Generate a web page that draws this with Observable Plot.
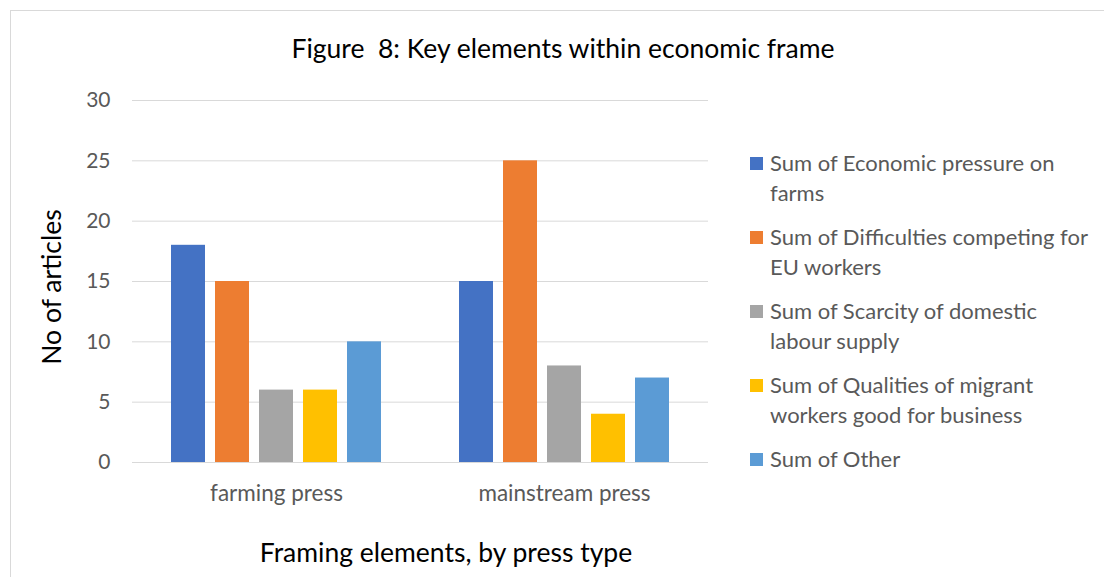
<!DOCTYPE html>
<html>
<head>
<meta charset="utf-8">
<script src="https://cdn.jsdelivr.net/npm/d3@7"></script>
<script src="https://cdn.jsdelivr.net/npm/@observablehq/plot@0.6"></script>
<style>
  html, body { margin: 0; padding: 0; background: #fff; }
  #wrap { position: relative; width: 1104px; height: 577px; overflow: hidden; font-family: Lato, "Noto Sans", sans-serif; }
  #frame { position: absolute; left: 10px; top: 10px; width: 1200px; height: 700px; border: 1px solid #d9d9d9; box-sizing: border-box; }
  #title { position: absolute; left: 0; width: 1126px; top: 32px; line-height: 32px; text-align: center; font-size: 26.5px; color: #000; }
  #ylab { position: absolute; left: 51px; top: 287px; transform: translate(-50%, -50%) rotate(-90deg); font-size: 26.5px; line-height: 32px; color: #000; white-space: nowrap; }
  #xlab { position: absolute; left: 0; width: 892px; top: 536px; line-height: 32px; text-align: center; font-size: 26.5px; color: #000; }
  #chart { position: absolute; left: 0; top: 0; }
  #legend { position: absolute; left: 750px; top: 148px; }
  .item { position: relative; padding-left: 20px; font-size: 22px; line-height: 30px; color: #595959; margin-bottom: 14px; white-space: nowrap; }
  .sw { position: absolute; left: 0; top: 9px; width: 13px; height: 13px; }
</style>
</head>
<body>
<div id="wrap">
  <div id="frame"></div>
  <div id="chart"></div>
  <div id="title">Figure&nbsp; 8: Key elements within economic frame</div>
  <div id="ylab">No of articles</div>
  <div id="xlab">Framing elements, by press type</div>
  <div id="legend"></div>
</div>
<script>
const presses = ["farming press", "mainstream press"];
const series = [
  "Sum of Economic pressure on farms",
  "Sum of Difficulties competing for EU workers",
  "Sum of Scarcity of domestic labour supply",
  "Sum of Qualities of migrant workers good for business",
  "Sum of Other"
];
const legendLines = [
  ["Sum of Economic pressure on", "farms"],
  ["Sum of Difficulties competing for", "EU workers"],
  ["Sum of Scarcity of domestic", "labour supply"],
  ["Sum of Qualities of migrant", "workers good for business"],
  ["Sum of Other"]
];
const farmingValues = [18, 15, 6, 6, 10];
const mainstreamValues = [15, 25, 8, 4, 7];
const colors = ["#4472C4", "#ED7D31", "#A5A5A5", "#FFC000", "#5B9BD5"];
const yTicks = [0, 5, 10, 15, 20, 25, 30];

const data = [];
series.forEach((s, i) => {
  data.push({press: presses[0], series: s, value: farmingValues[i]});
  data.push({press: presses[1], series: s, value: mainstreamValues[i]});
});

const chart = Plot.plot({
  width: 1104,
  height: 577,
  marginLeft: 132,
  marginRight: 396,
  marginTop: 100,
  marginBottom: 115,
  style: {fontFamily: "Lato, 'Noto Sans', sans-serif", fontSize: "21px", color: "#595959", background: "transparent"},
  fx: {domain: presses, padding: 0},
  x: {domain: series, paddingInner: 0.22, paddingOuter: 0.88, axis: null},
  y: {domain: [0, 30], axis: null},
  color: {domain: series, range: colors},
  marks: [
    Plot.ruleY(yTicks, {stroke: "#d9d9d9", strokeWidth: 1}),
    Plot.barY(data, {fx: "press", x: "series", y: "value", fill: "series"}),
    Plot.axisY(yTicks, {tickSize: 0, tickPadding: 22, fontSize: 21, fill: "#595959", label: null}),
    Plot.axisFx({anchor: "bottom", tickSize: 0, tickPadding: 23, fontSize: 22.5, fill: "#595959", label: null})
  ]
});
document.getElementById("chart").appendChild(chart);

const leg = document.getElementById("legend");
legendLines.forEach((lines, i) => {
  const d = document.createElement("div");
  d.className = "item";
  d.innerHTML = `<span class="sw" style="background:${colors[i]}"></span>` + lines.join("<br>");
  leg.appendChild(d);
});
</script>
</body>
</html>
